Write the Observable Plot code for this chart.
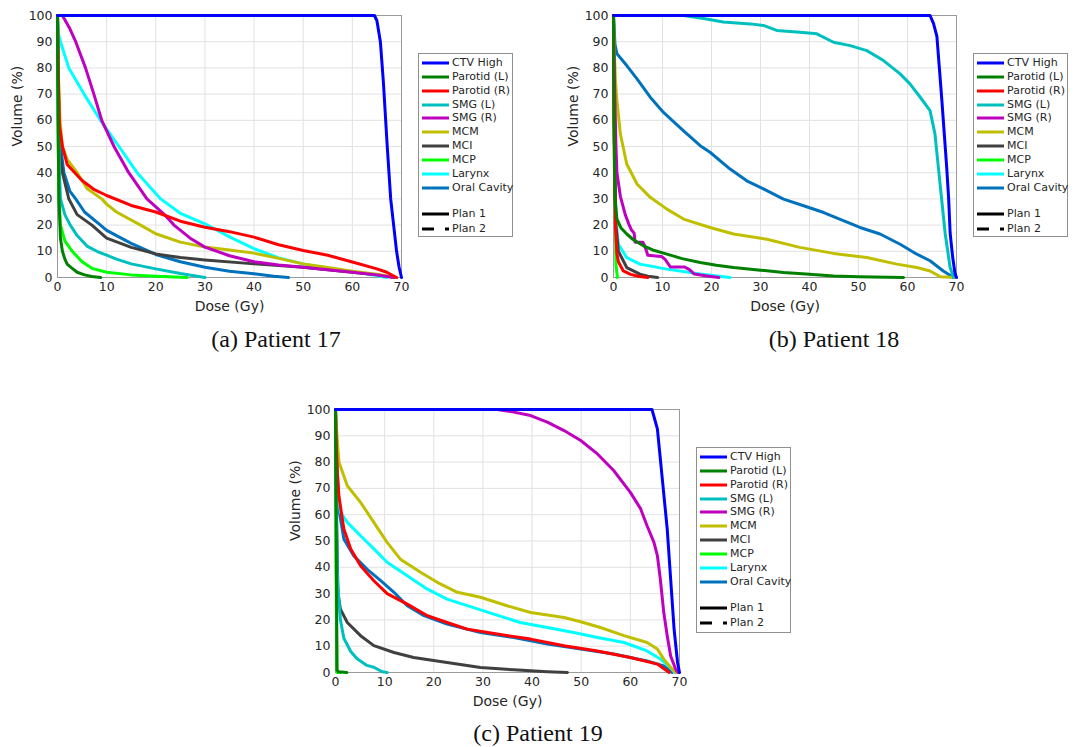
<!DOCTYPE html>
<html>
<head>
<meta charset="utf-8">
<script src="https://cdn.jsdelivr.net/npm/d3@7"></script>
<script src="https://cdn.jsdelivr.net/npm/@observablehq/plot@0.6"></script>
<style>
  html, body { margin: 0; padding: 0; background: #fff; }
  #root { position: relative; width: 1075px; height: 747px; overflow: hidden; }
  .panel { position: absolute; }
  .legend { position: absolute; background: #fff; border: 1px solid #8f8f8f; box-sizing: border-box;
            font-family: "DejaVu Sans", sans-serif; font-size: 11px; color: #262626; }
  .legend .item { position: absolute; left: 2px; height: 14px; line-height: 14px; white-space: nowrap; }
  .legend svg { position: absolute; left: 0; top: 0; }
  .legend span { position: absolute; left: 31px; top: 0; }
  .caption { position: absolute; font-family: "Liberation Serif", serif; font-size: 24px; color: #111;
             transform: translate(-50%, -50%); white-space: nowrap; }
</style>
</head>
<body>
<div id="root"></div>
<script>
// ---- Categories, colours, ticks ----
const structures = ["CTV High","Parotid (L)","Parotid (R)","SMG (L)","SMG (R)","MCM","MCI","MCP","Larynx","Oral Cavity"];
const colors = ["#0000ff","#008000","#ff0000","#00bfbf","#bf00bf","#bfbf00","#404040","#00ff00","#00ffff","#0072bd"];
const plans = ["Plan 1","Plan 2"];
const doseTicks = [0,10,20,30,40,50,60,70];
const volTicks = [0,10,20,30,40,50,60,70,80,90,100];
const captions = ["(a) Patient 17","(b) Patient 18","(c) Patient 19"];

// ---- DVH curves: [dose (Gy), volume (%)] per structure, in legend order ----
const patient17 = [
  [[0,100],[64.5,100],[65,98],[65.7,90],[66.3,75],[67.1,50],[67.8,30],[68.4,20],[69,10],[69.5,4],[70,0]],
  [[0,100],[0.1,60],[0.3,30],[0.6,15],[1,10],[1.5,7],[2,5],[3,3.5],[4,2],[5.5,1],[7,0.4],[8.8,0]],
  [[0,100],[0.2,75],[0.4,58],[1,50],[2,43],[3,41],[5,37],[7.5,33.5],[10,31.3],[15,27.5],[20,25],[25,21.5],[30,19.2],[35,17.5],[40,15.4],[45,12.5],[50,10.3],[55,8.5],[60,5.9],[65,3.3],[67,2],[69,0]],
  [[0,100],[0.2,60],[0.4,40],[0.6,30],[1.5,24],[2.6,20],[4,16],[6,12],[8,10],[10,8.5],[12,7],[15,5.2],[20,3.3],[25,1.5],[30,0]],
  [[0,100],[1,100],[2.5,95],[3.7,90],[5.7,80],[7.4,70],[9,60],[11.5,50],[14.5,40],[18.2,30],[21.6,24.3],[23.7,20],[27,15],[30,11.6],[35,8.3],[40,6],[45,4.8],[50,3.9],[55,3],[60,2],[65,1],[68.5,0]],
  [[0,100],[0.15,80],[0.3,70],[0.5,60],[1,50],[2,45],[4,40],[6,34],[9,30],[10,28],[12,25],[16.9,20],[20,16.7],[25,13.5],[30,11.6],[35,10.5],[40,9.3],[45,7.3],[50,5.2],[55,3.8],[60,2.4],[65,1.2],[69,0]],
  [[0,100],[0.2,70],[0.5,48],[1,40],[2.3,30],[4,24],[7,20],[10,15],[15,11.5],[20,9],[25,7.6],[30,6.7],[40,5.2],[50,3.9],[60,2],[65,1],[68.5,0]],
  [[0,100],[0.15,50],[0.3,30],[0.6,20],[1.5,14],[3,10],[5,6],[7,3.5],[10,2],[15,1],[20,0.5],[26.4,0]],
  [[0,100],[0.2,93],[0.6,90],[2.3,80],[5.4,70],[8.75,60],[12.5,50],[16.2,40],[21,30],[25,24.5],[30,20.5],[35,15.5],[40,11],[45,7.5],[50,5.2],[55,3.5],[60,2.2],[64,1],[67,0]],
  [[0,100],[0.2,70],[0.5,52],[1.3,40],[2.5,33],[3.7,30],[5.5,25],[8.75,20],[10,18],[12,16],[15,13],[20,8.8],[25,6],[30,3.9],[35,2.4],[40,1.4],[44,0.5],[47,0]]
];
const patient18 = [
  [[0,100],[64.6,100],[65.3,97],[66,92],[66.5,80],[67,68],[67.5,55],[68,42],[68.4,30],[68.7,17],[69.2,8],[69.7,1.5],[70,0]],
  [[0,100],[0.1,60],[0.3,30],[0.7,22.3],[1.5,19],[2.7,16.6],[4,14.5],[6.1,12.1],[8,10.5],[10.9,8.9],[14,7.2],[17.7,5.7],[21,4.7],[24.5,3.8],[30,2.8],[34.7,1.9],[40,1.2],[44.9,0.6],[50,0.3],[59.2,0]],
  [[0,100],[0.1,60],[0.2,40],[0.4,20],[0.7,9],[1,6],[2,2.5],[3.5,1.2],[5,0.5],[7,0]],
  [[0,100],[14.3,100],[19,98.7],[22.4,97.5],[27.9,96.8],[30.6,96.2],[33.3,94.3],[38,93.6],[41.5,93],[44.9,89.8],[48.3,88.5],[51.7,86.6],[55.1,82.8],[58.5,77.7],[60.5,73.9],[62.6,68.8],[64.6,63.7],[65.6,54.8],[66.3,42],[67,29.3],[67.7,16.6],[68.7,3.8],[69.4,0]],
  [[0,100],[0.2,75],[0.5,50],[0.7,40],[1.4,31],[2.4,24],[3.1,20.5],[3.7,18],[4.2,17],[4.4,13.5],[6,13.5],[6.4,12],[7,8.5],[9.8,8],[10.5,7],[11.6,4],[14.5,4],[15.5,3],[16.5,1.3],[19,0.6],[21.5,0]],
  [[0,100],[0.2,85],[0.4,75],[0.7,67.5],[1.4,54.8],[2.7,43.3],[4.8,35.7],[7.5,30.6],[10.9,26.1],[14.3,22.3],[19.7,19.1],[24.5,16.6],[31.3,14.6],[38,11.5],[44.9,9.2],[51.7,7.6],[57.8,5.1],[61.9,3.8],[64.6,2.5],[66.7,0.3],[69.7,0]],
  [[0,100],[0.2,50],[0.5,20],[1,10],[2.7,3.8],[5.4,1.3],[7,0.5],[9,0]],
  [[0,100],[0.2,50],[0.5,5],[0.8,0]],
  [[0,100],[0.2,50],[0.5,22],[1,12.7],[2.7,7.6],[5.4,5.1],[10.9,3.2],[17.7,1.3],[23.8,0]],
  [[0,100],[0.3,89],[0.7,85.4],[2.7,80.9],[4.8,75.8],[7.5,68.8],[10.2,63],[14.3,56],[17.7,50.3],[19.7,47.8],[23.8,41.4],[27.2,36.9],[30.6,33.8],[34.7,29.9],[38.8,27.4],[42.9,24.8],[46.9,21.7],[50.3,19.1],[54.4,16.6],[58.5,12.7],[61.9,8.9],[64.6,6.4],[67.3,2.5],[69.4,0]]
];
const patient19 = [
  [[0,100],[64.4,100],[65.5,92.6],[66.5,73.6],[67.5,54.6],[68.2,35.5],[68.9,16.5],[69.6,3.8],[70,0]],
  [[0,100],[0.15,50],[0.3,1],[0.6,0.3],[2.3,0]],
  [[0,100],[0.2,85],[0.4,75],[0.7,67],[1.7,54.6],[3.1,47],[5.1,40.6],[7.8,34.9],[10.5,30],[14.6,26],[18.7,21.6],[22.7,19],[26.8,16.5],[32.9,14.6],[39.7,12.7],[46.5,10.2],[53.3,8.2],[60,5.7],[65.5,3.2],[67.9,0]],
  [[0,100],[0.2,60],[0.4,35],[1,20],[1.7,13],[3.1,8],[4.4,5.2],[6.4,2.7],[7.8,2],[9.5,0.3],[10.5,0]],
  [[0,100],[32.9,100],[36.3,99],[39.7,97.7],[43.1,95.2],[46.5,92],[49.9,88.2],[53.3,83.1],[56.6,76.8],[60,68.5],[62.1,62.2],[63.4,55.8],[64.8,49.5],[65.5,44.4],[66.1,35.5],[66.8,22.8],[67.5,14],[68.2,6.3],[69.2,1.3],[69.7,0]],
  [[0,100],[0.3,90],[0.7,80],[2.4,71],[5.1,64.7],[7.8,57.1],[10.5,49.5],[13.2,43.1],[17.3,38.1],[20.7,34.3],[24.8,30.5],[29.5,28.6],[34.9,25.4],[39.7,22.8],[46.5,20.9],[49.9,19.3],[53.9,17.1],[58.7,14],[63.4,11.4],[65.5,8.9],[66.8,5.1],[68.2,1.9],[69.2,0]],
  [[0,100],[0.2,60],[0.5,30],[1,24.1],[2.4,19],[5.1,14],[7.8,10.2],[11.9,7.6],[15.9,5.7],[22.7,3.8],[29.5,1.9],[36.3,1],[43.1,0.3],[47.2,0]],
  [[0,100],[0.1,40],[0.3,0],[1,0]],
  [[0,100],[0.2,85],[0.5,70],[1,61],[2.4,57.1],[5.1,52],[7.8,47],[10.5,41.9],[14.6,36.8],[18.7,31.7],[22.7,27.9],[26.8,25.4],[32.2,22.2],[37.6,19],[43.1,17.1],[48.5,15.2],[53.3,13.3],[58.7,11.4],[63.4,8.2],[66.1,5.1],[68.2,1.9],[69,0]],
  [[0,100],[0.3,80],[0.7,62],[1.7,50.8],[3.7,44.4],[6.4,39.3],[9.2,34.9],[11.9,30.5],[14.6,25.4],[18,21.6],[22.7,18.4],[29.5,15.2],[36.3,13.3],[43.1,10.8],[49.9,8.9],[56.6,7],[63.4,4.4],[66.8,2.5],[68.5,0]]
];

const root = document.getElementById("root");
const ML = 57, MT = 15, MR = 20, MB = 45;

function panel(data, plotLeft, plotTop, plotW, plotH) {
  const rows = [];
  for (let i = data.length - 1; i >= 0; i--) {
    for (const [d, v] of data[i]) rows.push({s: structures[i], dose: d, vol: v});
  }
  const chart = Plot.plot({
    width: ML + plotW + MR,
    height: MT + plotH + MB,
    marginLeft: ML, marginTop: MT, marginRight: MR, marginBottom: MB,
    style: {fontFamily: "DejaVu Sans, sans-serif", fontSize: "12.5px", color: "#262626", background: "transparent", overflow: "visible"},
    x: {domain: [0, 70], ticks: doseTicks},
    y: {domain: [0, 100], ticks: volTicks},
    color: {domain: structures, range: colors},
    marks: [
      Plot.gridX(doseTicks, {stroke: "#e2e2e2", strokeOpacity: 1}),
      Plot.gridY(volTicks, {stroke: "#e2e2e2", strokeOpacity: 1}),
      Plot.axisX(doseTicks, {tickSize: 0, tickPadding: 5, label: null}),
      Plot.axisY(volTicks, {tickSize: 0, tickPadding: 5, label: null}),
      Plot.frame({stroke: "#9a9a9a"}),
      Plot.line(rows, {x: "dose", y: "vol", z: "s", stroke: "s", strokeWidth: 3, strokeLinejoin: "round"}),
      Plot.text(["Dose (Gy)"], {frameAnchor: "bottom", lineAnchor: "middle", dy: 29, fontSize: 14, text: d => d}),
      Plot.text(["Volume (%)"], {frameAnchor: "left", lineAnchor: "middle", dx: -40, rotate: -90, fontSize: 14, text: d => d})
    ]
  });
  chart.classList.add("panel");
  chart.style.left = (plotLeft - ML) + "px";
  chart.style.top = (plotTop - MT) + "px";
  root.appendChild(chart);
}

function legend(left, top, height) {
  const box = document.createElement("div");
  box.className = "legend";
  box.style.left = left + "px";
  box.style.top = top + "px";
  box.style.width = "95px";
  box.style.height = height + "px";
  const addItem = (label, color, yc, dash) => {
    const it = document.createElement("div");
    it.className = "item";
    it.style.top = (yc - 7) + "px";
    it.style.width = "92px";
    it.innerHTML = `<svg width="30" height="14"><line x1="1" x2="28" y1="7" y2="7" stroke="${color}" stroke-width="3" ${dash ? 'stroke-dasharray="12,11,4"' : ""}/></svg><span>${label}</span>`;
    box.appendChild(it);
  };
  structures.forEach((s, i) => addItem(s, colors[i], 9 + 13.85 * i, false));
  addItem(plans[0], "#000", 160, false);
  addItem(plans[1], "#000", 175, true);
  root.appendChild(box);
}

function caption(text, x, y) {
  const c = document.createElement("div");
  c.className = "caption";
  c.textContent = text;
  c.style.left = x + "px";
  c.style.top = y + "px";
  root.appendChild(c);
}

panel(patient17, 57, 15, 344, 262);
panel(patient18, 613, 15, 343, 262);
panel(patient19, 335, 409, 344, 263);
legend(418, 53, 184);
legend(973, 53, 184);
legend(696, 447, 186);
caption(captions[0], 276, 339);
caption(captions[1], 834, 339);
caption(captions[2], 538, 733);
</script>
</body>
</html>
